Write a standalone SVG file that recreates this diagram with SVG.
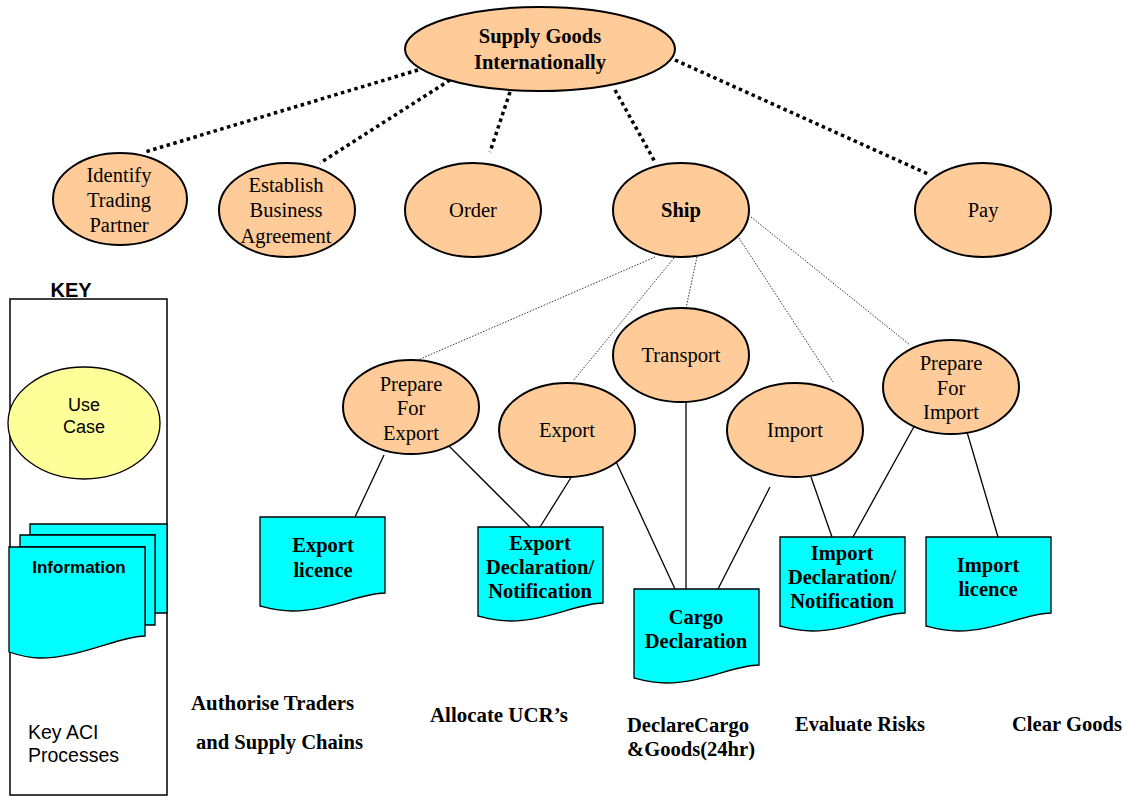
<svg xmlns="http://www.w3.org/2000/svg" width="1126" height="797" viewBox="0 0 1126 797">
  <defs>
    <style>
      .uc { fill: #FFCC99; stroke: #000; stroke-width: 2; }
      .doc { fill: #00FFFF; stroke: #000; stroke-width: 1.3; }
      .t { font-family: "Liberation Serif", "Times New Roman", serif; font-size: 20.5px; fill: #000; text-anchor: middle; }
      .tb { font-family: "Liberation Serif", "Times New Roman", serif; font-size: 20.5px; font-weight: bold; fill: #000; text-anchor: middle; }
      .proc { font-family: "Liberation Serif", "Times New Roman", serif; font-size: 20px; font-weight: bold; fill: #000; }
      .sans { font-family: "Liberation Sans", Arial, sans-serif; fill: #000; }
      .thick { stroke: #000; stroke-width: 3.5; stroke-dasharray: 3.5 3.5; fill: none; }
      .thin { stroke: #333; stroke-width: 1; stroke-dasharray: 1.5 1.5; fill: none; }
      .solid { stroke: #000; stroke-width: 1.3; fill: none; }
    </style>
    <!-- document (information) shape: 125 wide, wavy bottom -->
    <path id="docShape" d="M0,0 H125 V76 C100,76 70,94 32,94 C18,94 8,91 0,89 Z"/>
  </defs>

  <rect width="1126" height="797" fill="#fff"/>

  <!-- connectors -->
  <g id="connectors">
    <line class="thick" x1="418" y1="70" x2="145" y2="152"/>
    <line class="thick" x1="450" y1="80" x2="320" y2="163"/>
    <line class="thick" x1="510" y1="92" x2="490" y2="152"/>
    <line class="thick" x1="615" y1="90" x2="655" y2="162"/>
    <line class="thick" x1="675" y1="60" x2="928" y2="174"/>

    <line class="thin" x1="655" y1="257" x2="418" y2="360"/>
    <line class="thin" x1="674" y1="258" x2="573" y2="381"/>
    <line class="thin" x1="697" y1="257" x2="686" y2="308"/>
    <line class="thin" x1="739" y1="238" x2="833" y2="382"/>
    <line class="thin" x1="751" y1="217" x2="910" y2="345"/>

    <line class="solid" x1="384" y1="455" x2="355" y2="517"/>
    <line class="solid" x1="448" y1="445" x2="530" y2="527"/>
    <line class="solid" x1="572" y1="476" x2="540" y2="527"/>
    <line class="solid" x1="613" y1="455" x2="675" y2="589"/>
    <line class="solid" x1="686" y1="402" x2="686" y2="589"/>
    <line class="solid" x1="770" y1="487" x2="718" y2="589"/>
    <line class="solid" x1="811" y1="477" x2="832" y2="537"/>
    <line class="solid" x1="916" y1="423" x2="853" y2="537"/>
    <line class="solid" x1="967" y1="432" x2="998" y2="537"/>
  </g>

  <!-- use cases -->
  <g id="supply-goods">
    <ellipse class="uc" cx="540" cy="49" rx="135" ry="42"/>
    <text class="tb" x="540" y="43">Supply Goods</text>
    <text class="tb" x="540" y="69">Internationally</text>
  </g>
  <g id="identify-trading-partner">
    <ellipse class="uc" cx="120" cy="199" rx="67" ry="46"/>
    <text class="t" x="119" y="182">Identify</text>
    <text class="t" x="119" y="207">Trading</text>
    <text class="t" x="119" y="232">Partner</text>
  </g>
  <g id="establish-business-agreement">
    <ellipse class="uc" cx="287" cy="210" rx="68" ry="47"/>
    <text class="t" x="286" y="192">Establish</text>
    <text class="t" x="286" y="217">Business</text>
    <text class="t" x="286" y="243">Agreement</text>
  </g>
  <g id="order">
    <ellipse class="uc" cx="473" cy="210" rx="68" ry="47"/>
    <text class="t" x="473" y="217">Order</text>
  </g>
  <g id="ship">
    <ellipse class="uc" cx="681" cy="210" rx="68" ry="47"/>
    <text class="t" x="681" y="217" font-weight="bold">Ship</text>
  </g>
  <g id="pay">
    <ellipse class="uc" cx="983" cy="210" rx="68" ry="47"/>
    <text class="t" x="983" y="217">Pay</text>
  </g>
  <g id="prepare-for-export">
    <ellipse class="uc" cx="411" cy="407" rx="68" ry="47"/>
    <text class="t" x="411" y="391">Prepare</text>
    <text class="t" x="411" y="415">For</text>
    <text class="t" x="411" y="440">Export</text>
  </g>
  <g id="export">
    <ellipse class="uc" cx="567" cy="430" rx="68" ry="47"/>
    <text class="t" x="567" y="437">Export</text>
  </g>
  <g id="transport">
    <ellipse class="uc" cx="681" cy="355" rx="68" ry="47"/>
    <text class="t" x="681" y="362">Transport</text>
  </g>
  <g id="import">
    <ellipse class="uc" cx="795" cy="430" rx="68" ry="47"/>
    <text class="t" x="795" y="437">Import</text>
  </g>
  <g id="prepare-for-import">
    <ellipse class="uc" cx="951" cy="387" rx="68" ry="47"/>
    <text class="t" x="951" y="370">Prepare</text>
    <text class="t" x="951" y="395">For</text>
    <text class="t" x="951" y="419">Import</text>
  </g>

  <!-- information documents -->
  <g id="export-licence">
    <use href="#docShape" class="doc" x="260" y="517"/>
    <text class="tb" x="323" y="552">Export</text>
    <text class="tb" x="323" y="577">licence</text>
  </g>
  <g id="export-declaration">
    <use href="#docShape" class="doc" x="478" y="527"/>
    <text class="tb" x="540" y="550">Export</text>
    <text class="tb" x="540" y="574">Declaration/</text>
    <text class="tb" x="540" y="598">Notification</text>
  </g>
  <g id="cargo-declaration">
    <use href="#docShape" class="doc" x="634" y="589"/>
    <text class="tb" x="696" y="624">Cargo</text>
    <text class="tb" x="696" y="648">Declaration</text>
  </g>
  <g id="import-declaration">
    <use href="#docShape" class="doc" x="780" y="537"/>
    <text class="tb" x="842" y="560">Import</text>
    <text class="tb" x="842" y="584">Declaration/</text>
    <text class="tb" x="842" y="608">Notification</text>
  </g>
  <g id="import-licence">
    <use href="#docShape" class="doc" x="926" y="537"/>
    <text class="tb" x="988" y="572">Import</text>
    <text class="tb" x="988" y="596">licence</text>
  </g>

  <!-- key ACI process labels -->
  <g id="processes">
    <text class="proc" x="191" y="710" textLength="163" lengthAdjust="spacingAndGlyphs">Authorise Traders</text>
    <text class="proc" x="196" y="749" textLength="167" lengthAdjust="spacingAndGlyphs">and Supply Chains</text>
    <text class="proc" x="430" y="722" textLength="138" lengthAdjust="spacingAndGlyphs">Allocate UCR’s</text>
    <text class="proc" x="627" y="732" textLength="122" lengthAdjust="spacingAndGlyphs">DeclareCargo</text>
    <text class="proc" x="627" y="756" textLength="128" lengthAdjust="spacingAndGlyphs">&amp;Goods(24hr)</text>
    <text class="proc" x="795" y="731" textLength="130" lengthAdjust="spacingAndGlyphs">Evaluate Risks</text>
    <text class="proc" x="1012" y="731" textLength="110" lengthAdjust="spacingAndGlyphs">Clear Goods</text>
  </g>

  <!-- legend -->
  <g id="key">
    <text class="sans" x="71" y="297" font-size="20" font-weight="bold" text-anchor="middle">KEY</text>
    <rect x="10" y="299" width="157" height="496" fill="none" stroke="#000" stroke-width="1.5"/>
    <ellipse cx="84" cy="423" rx="76" ry="56" fill="#FFFF99" stroke="#000" stroke-width="1.3"/>
    <text class="sans" x="84" y="411" font-size="18" text-anchor="middle">Use</text>
    <text class="sans" x="84" y="433" font-size="18" text-anchor="middle">Case</text>
    <path class="doc" d="M30,524 H167 V613 H155 V535 H30 Z"/>
    <path class="doc" d="M20,535 H155 V625 H145 V547 H20 Z"/>
    <path class="doc" d="M9,547 H145 V636 C120,636 80,658 40,658 C28,658 18,655 9,652 Z"/>
    <text class="sans" x="79" y="573" font-size="17" font-weight="bold" text-anchor="middle">Information</text>
    <text class="sans" x="28" y="739" font-size="19.5">Key ACI</text>
    <text class="sans" x="28" y="762" font-size="19.5">Processes</text>
  </g>
</svg>
